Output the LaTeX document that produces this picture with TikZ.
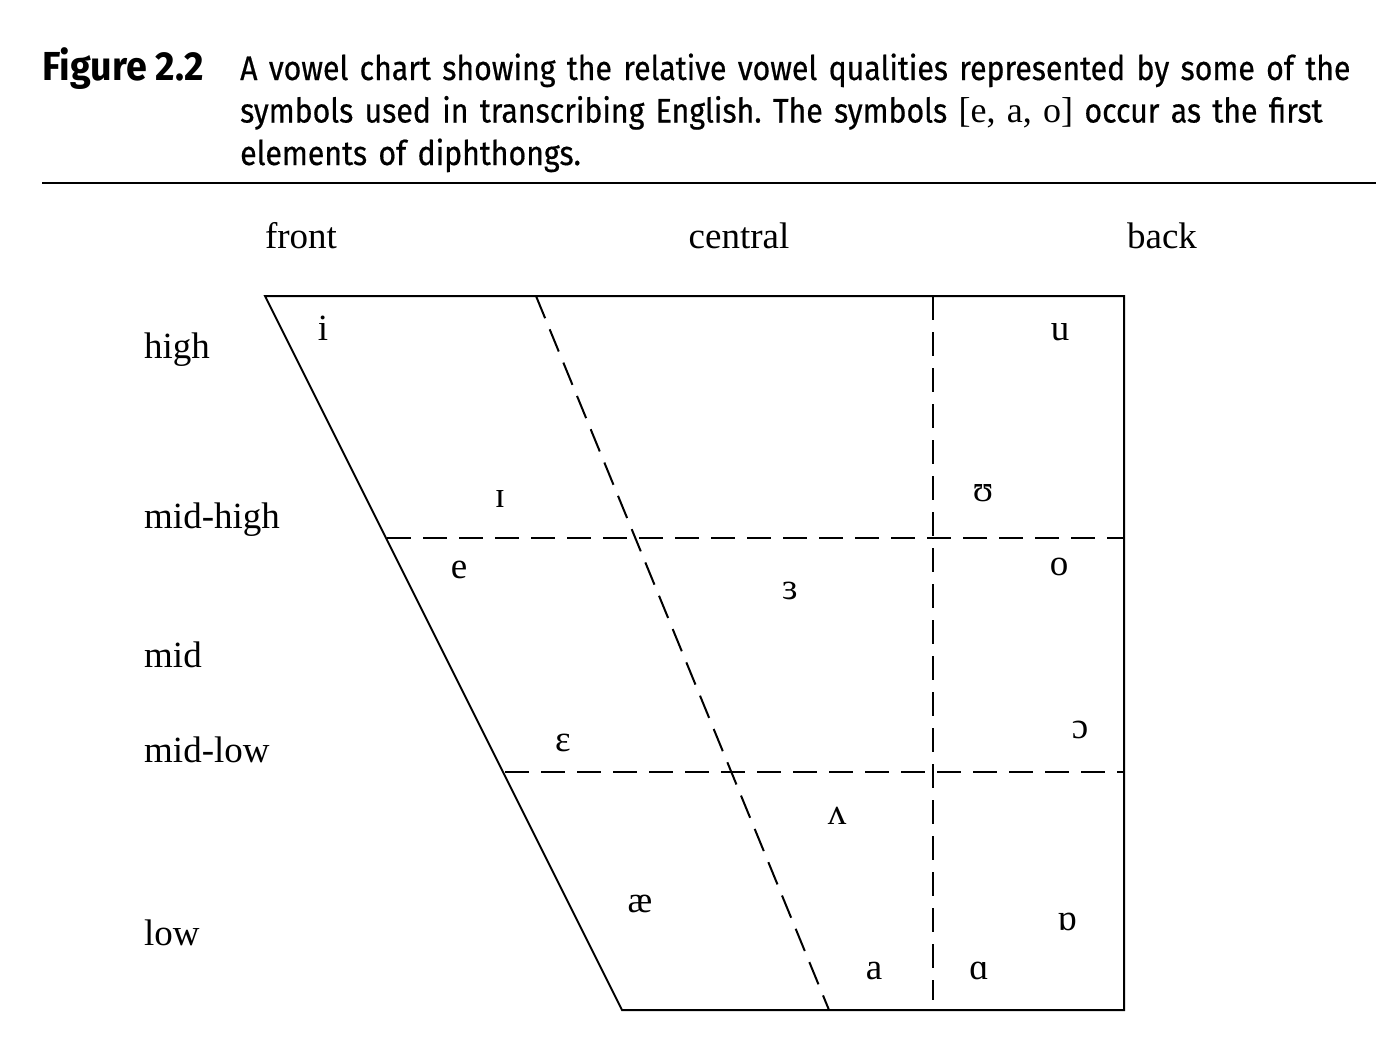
\documentclass[tikz,border=0pt]{standalone}
\usepackage{fontspec}
\setmainfont{Liberation Serif}
\newfontfamily\capfont[FakeStretch=0.89, FakeBold=0.5]{Fira Sans}
\newfontfamily\figfont[FakeStretch=0.93]{Fira Sans}
\frenchspacing
\begin{document}
\begin{tikzpicture}[x=1pt,y=-1pt,
  solidline/.style={line width=2pt},
  dashline/.style={line width=2pt, dash pattern=on 24pt off 12pt},
  lab/.style={font=\fontsize{37}{40}\selectfont, inner sep=0pt, anchor=base west},
  hlab/.style={font=\fontsize{37}{40}\selectfont, inner sep=0pt, anchor=base},
  vow/.style={font=\fontsize{37}{40}\selectfont, inner sep=0pt, anchor=base},
  captext/.style={font=\capfont\fontsize{34}{42.5}\selectfont, inner sep=0pt, anchor=base west, align=left}
]
\useasboundingbox (0,0) rectangle (1396,1060);
% caption
\node[captext, font=\figfont\bfseries\fontsize{40.5}{42.5}\selectfont] (fig) at (42,80) {Figure 2.2};
\node[captext, text width=1150pt] (captxt) at (240,80) {A vowel chart showing the relative vowel qualities represented by some of the\\ symbols used in transcribing English. The symbols {\rmfamily\fontsize{36}{42.5}\selectfont [e, a, o]} occur as the first\\ elements of diphthongs.};
\coordinate (r1) at (42,183);
\coordinate (r2) at (1376,183);
\draw[solidline] (r1) -- (r2);
% column labels
\node[hlab] (front) at (301,248) {front};
\node[hlab] (central) at (739,248) {central};
\node[hlab] (back) at (1162,248) {back};
% row labels
\node[lab] (high) at (144,358) {high};
\node[lab] (midhigh) at (144,528) {mid-high};
\node[lab] (mid) at (144,667) {mid};
\node[lab] (midlow) at (144,762) {mid-low};
\node[lab] (low) at (144,945) {low};
% chart
\coordinate (tl) at (265,296);
\coordinate (tr) at (1124,296);
\coordinate (br) at (1124,1010);
\coordinate (bl) at (622,1010);
\draw[solidline, line join=miter] (tr) -- (tl) -- (bl) -- (br) -- cycle;
\coordinate (dt) at (536,296);
\coordinate (db) at (829,1010);
\draw[dashline] (dt) -- (db);
\coordinate (vt) at (933,296);
\coordinate (vb) at (933,1000);
\draw[dashline] (vt) -- (vb);
\coordinate (h1a) at (387,538);
\coordinate (h1b) at (1124,538);
\draw[dashline] (h1a) -- (h1b);
\coordinate (h2a) at (505,772);
\coordinate (h2b) at (1124,772);
\draw[dashline] (h2a) -- (h2b);
% vowels
\node[vow] (vi) at (323,340) {i};
\node[vow] (vu) at (1060,340) {u};
\node[vow] (vI) at (500,507) {ɪ};
\node[vow] (vU) at (983,501) {ʊ};
\node[vow] (ve) at (459,578) {e};
\node[vow] (vo) at (1059,575) {o};
\node[vow] (v3) at (790,599) {ɜ};
\node[vow] (vE) at (563,751) {ɛ};
\node[vow] (vO) at (1080,738) {ɔ};
\node[vow] (vV) at (837,824) {ʌ};
\node[vow] (vae) at (640,912) {æ};
\node[vow] (vQ) at (1067,930) {ɒ};
\node[vow] (va) at (874,979) {a};
\node[vow] (vA) at (979,979) {ɑ};
\end{tikzpicture}
\end{document}
